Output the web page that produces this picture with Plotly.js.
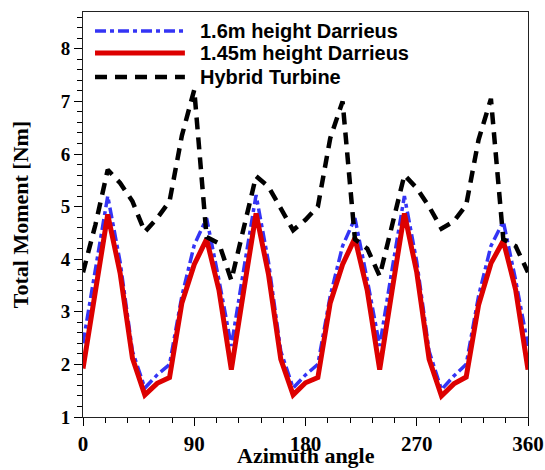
<!DOCTYPE html>
<html>
<head>
<meta charset="utf-8">
<script src="https://cdn.plot.ly/plotly-3.0.1.min.js"></script>
<style>
  html, body { margin: 0; padding: 0; background: #fff; }
  #chart { width: 545px; height: 470px; }
</style>
</head>
<body>
<div id="chart"></div>
<script>
// Azimuth angle (degrees)
const azimuth = [0,10,20,30,40,50,60,70,80,90,100,110,120,
                 130,140,150,160,170,180,190,200,210,220,230,240,
                 250,260,270,280,290,300,310,320,330,340,350,360];

// 1.6m height Darrieus
const darrieus16 = [2.4,3.8,5.2,3.95,2.25,1.55,1.8,2.0,3.3,4.27,4.78,3.6,2.35,
                    3.8,5.22,3.95,2.25,1.55,1.8,2.0,3.3,4.25,4.78,3.6,2.35,
                    3.8,5.2,3.95,2.25,1.52,1.78,2.0,3.3,4.25,4.72,3.6,2.35];

// 1.45m height Darrieus
const darrieus145 = [1.92,3.4,4.85,3.74,2.12,1.42,1.64,1.75,3.17,3.9,4.38,3.41,1.9,
                     3.4,4.87,3.72,2.1,1.42,1.65,1.75,3.17,3.9,4.4,3.4,1.9,
                     3.4,4.87,3.75,2.1,1.4,1.63,1.76,3.13,3.92,4.35,3.42,1.9];

// Hybrid Turbine
const hybrid = [3.75,4.65,5.7,5.45,5.1,4.52,4.78,5.1,6.35,7.22,4.42,4.3,3.6,
                4.6,5.58,5.38,4.95,4.55,4.75,5.0,6.3,7.0,4.38,4.2,3.68,
                4.65,5.6,5.35,5.0,4.58,4.72,5.03,6.27,7.05,4.38,4.25,3.75];

const seriesNames = ['1.6m height Darrieus', '1.45m height Darrieus', 'Hybrid Turbine'];
const xTitle = 'Azimuth angle';
const yTitle = 'Total Moment [Nm]';

const styles = [
  {color: '#3434f5', width: 3.5, dash: '11px,4px,4px,4px'},
  {color: '#dd0000', width: 5, dash: 'solid'},
  {color: '#000000', width: 4.5, dash: '12px,8px'}
];
const seriesY = [darrieus16, darrieus145, hybrid];

const traces = seriesY.map((ys, i) => ({
  x: azimuth, y: ys, type: 'scatter', mode: 'lines', name: seriesNames[i],
  line: {color: styles[i].color, width: styles[i].width, dash: styles[i].dash},
  showlegend: false
}));
const serif = 'Liberation Serif, Times New Roman, serif';
const sans = 'Liberation Sans, Arial, sans-serif';

// custom legend (longer line samples like the reference)
const legY = [0.953, 0.899, 0.8395];
const shapes = seriesNames.map((n, i) => ({
  type: 'line', xref: 'paper', yref: 'paper',
  x0: 0.027, x1: 0.229, y0: legY[i], y1: legY[i],
  line: {color: styles[i].color, width: styles[i].width, dash: styles[i].dash}
}));
const annotations = seriesNames.map((n, i) => ({
  xref: 'paper', yref: 'paper', x: 0.258, y: legY[i],
  xanchor: 'left', yanchor: 'middle', showarrow: false, text: '<b>' + n + '</b>',
  font: {family: sans, size: 20, color: '#000', weight: 700}
}));
// x-axis title at the bottom edge like the reference
annotations.push({
  xref: 'paper', yref: 'paper', x: 0.5, y: -0.1309,
  xanchor: 'center', yanchor: 'bottom', showarrow: false,
  text: '<b>' + xTitle + '</b>',
  font: {family: serif, size: 22, color: '#000', weight: 700}
});

const layout = {
  width: 545, height: 470,
  margin: {l: 83, r: 17, t: 12, b: 53},
  paper_bgcolor: '#fff', plot_bgcolor: '#fff',
  showlegend: false,
  xaxis: {
    range: [0, 360], tick0: 0, dtick: 90, tickmode: 'linear',
    ticks: 'outside', ticklen: 8, tickwidth: 1, tickcolor: '#000',
    minor: {dtick: 18, tick0: 0, ticks: 'outside', ticklen: 5, tickcolor: '#000', showgrid: false},
    showline: true, linecolor: '#222', linewidth: 1, mirror: true,
    showgrid: false, zeroline: false,
    tickfont: {family: serif, size: 21, color: '#000', weight: 700}
  },
  yaxis: {
    range: [1, 8.7], tick0: 1, dtick: 1, tickmode: 'linear',
    ticks: 'outside', ticklen: 8, tickwidth: 1, tickcolor: '#000',
    minor: {dtick: 0.2, tick0: 1, ticks: 'outside', ticklen: 5, tickcolor: '#000', showgrid: false},
    showline: true, linecolor: '#222', linewidth: 1, mirror: true,
    showgrid: false, zeroline: false,
    tickfont: {family: serif, size: 19, color: '#000', weight: 700},
    title: {text: '<b>' + yTitle + '</b>', font: {family: serif, size: 22, color: '#000', weight: 700}, standoff: 26}
  },
  shapes: shapes,
  annotations: annotations
};

Plotly.newPlot('chart', traces, layout, {staticPlot: true, displayModeBar: false});
</script>
</body>
</html>
